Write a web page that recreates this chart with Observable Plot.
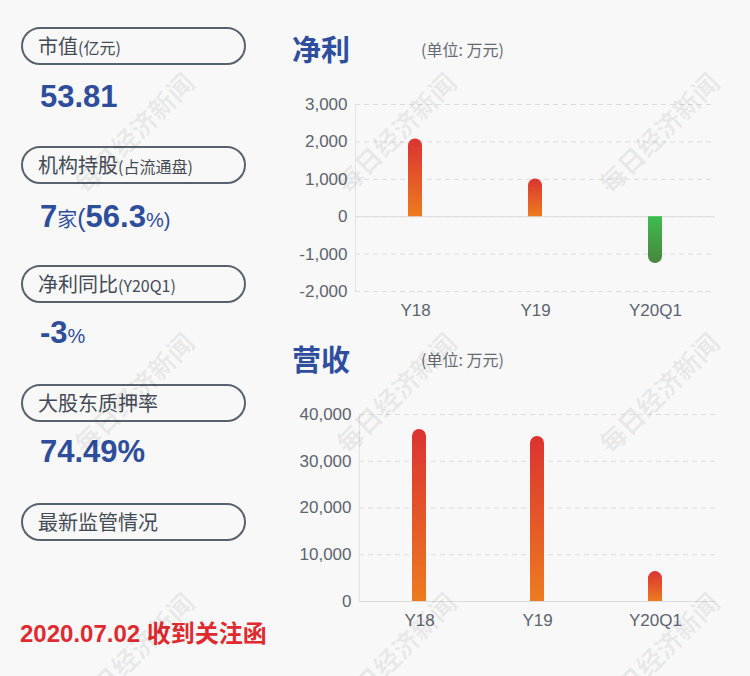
<!DOCTYPE html>
<html><head><meta charset="utf-8">
<script src="https://cdn.jsdelivr.net/npm/d3@7"></script>
<script src="https://cdn.jsdelivr.net/npm/@observablehq/plot@0.6"></script>
<style>
html,body{margin:0;padding:0;background:#f8f8f8;}
#page{position:relative;width:750px;height:676px;overflow:hidden;background:#f8f8f8;font-family:"Liberation Sans",Arial,"Noto Sans CJK SC",sans-serif;}
.layer{position:absolute;left:0;top:0;}
.chart{position:absolute;left:280px;}
</style></head><body>
<div id="page">
<svg id="panel" class="layer" width="750" height="676"></svg>
<div id="c1" class="chart" style="top:90px"></div>
<div id="c2" class="chart" style="top:400px"></div>
<svg id="wm" class="layer" width="750" height="676" style="pointer-events:none"></svg>
</div>
<svg width="0" height="0" style="position:absolute">
<defs>
<linearGradient id="gPos" x1="0" y1="0" x2="0" y2="1">
<stop offset="0" stop-color="#db3331"/><stop offset="1" stop-color="#ed7b1f"/>
</linearGradient>
<linearGradient id="gNeg" x1="0" y1="0" x2="0" y2="1">
<stop offset="0" stop-color="#3dbc50"/><stop offset="1" stop-color="#4a863d"/>
</linearGradient>
</defs>
</svg>
<script>
// ---- data ----
const categories = ["Y18", "Y19", "Y20Q1"];
const netProfit = [2080, 1010, -1250];
const revenue = [36800, 35300, 6400];
const netProfitTicks = [-2000, -1000, 0, 1000, 2000, 3000];
const revenueTicks = [0, 10000, 20000, 30000, 40000];
const chartTitles = ["净利", "营收"];
const unitText = "(单位: 万元)";
const panelLabels = ["市值", "机构持股", "净利同比", "大股东质押率", "最新监管情况"];
const panelSubLabels = ["(亿元)", "(占流通盘)", "(Y20Q1)", "", ""];
const panelValues = [
  [["53.81", "b"]],
  [["7", "b"], ["家", "s"], ["(", "m"], ["56.3", "b"], ["%)", "s"]],
  [["-3", "b"], ["%", "s"]],
  [["74.49%", "b"]],
  []
];
const footerText = "2020.07.02 收到关注函";
const watermarkText = "每日经济新闻";

// ---- left panel ----
const panel = d3.select("#panel");
const cjk = "'Noto Sans CJK SC','Liberation Sans',sans-serif";
const lat = "'Liberation Sans',Arial,'Noto Sans CJK SC',sans-serif";
panelLabels.forEach((lab, i) => {
  const top = 28 + i * 119;
  panel.append("rect").attr("x", 22).attr("y", top).attr("width", 223).attr("height", 36)
    .attr("rx", 18).attr("fill", "none").attr("stroke", "#58626f").attr("stroke-width", 2);
  const t = panel.append("text").attr("x", 38).attr("y", top + 25.5).attr("fill", "#444b55");
  t.append("tspan").text(lab).attr("font-size", 20).attr("font-family", cjk);
  if (panelSubLabels[i]) t.append("tspan").text(panelSubLabels[i]).attr("font-size", 16).attr("font-family", cjk);
  const vals = panelValues[i];
  if (vals.length) {
    const v = panel.append("text").attr("x", 40).attr("y", top + 79 + (i === 1 ? 1 : 0) + (i >= 2 ? -2 : 0)).attr("fill", "#2e4d9b");
    vals.forEach(([s, k]) => {
      const sp = v.append("tspan").text(s).attr("font-family", lat);
      if (k === "b") sp.attr("font-size", 31).attr("font-weight", "bold");
      else if (k === "m") sp.attr("font-size", 25);
      else sp.attr("font-size", 20);
    });
  }
});
panel.append("text").attr("x", 20).attr("y", 642).attr("fill", "#df2a2f")
  .attr("font-size", 24).attr("font-weight", "bold").attr("font-family", lat).text(footerText);

// titles
[[61, 56], [371, 366]].forEach(([by, uy], i) => {
  panel.append("text").attr("x", 292).attr("y", by).attr("fill", "#2f4f9e")
    .attr("font-size", 29).attr("font-weight", "bold").attr("font-family", cjk).text(chartTitles[i]);
  panel.append("text").attr("x", 421).attr("y", uy).attr("fill", "#666b73")
    .attr("font-size", 16).attr("font-family", cjk).text(unitText);
});

// ---- charts ----
function roundTips(svg) {
  const y0 = svg.scale("y").apply(0);
  svg.querySelectorAll('g[aria-label="bar"] rect').forEach(rect => {
    const x = +rect.getAttribute("x"), y = +rect.getAttribute("y");
    const w = +rect.getAttribute("width"), h = +rect.getAttribute("height");
    const r = Math.min(w / 2, h);
    const pos = Math.abs(y + h - y0) < 1;
    const d = pos
      ? `M${x},${y + h}V${y + r}A${r},${r} 0 0 1 ${x + w},${y + r}V${y + h}Z`
      : `M${x},${y}V${y + h - r}A${r},${r} 0 0 0 ${x + w},${y + h - r}V${y}Z`;
    const p = document.createElementNS("http://www.w3.org/2000/svg", "path");
    for (const a of rect.attributes) if (!["x", "y", "width", "height"].includes(a.name)) p.setAttribute(a.name, a.value);
    p.setAttribute("d", d);
    rect.replaceWith(p);
  });
}

function makeChart(values, ticks, marginLeft) {
  const data = categories.map((c, i) => ({cat: c, v: values[i]}));
  const innerW = 450 - marginLeft - 15;
  const step = innerW / 3;
  const pi = 1 - 14 / step;
  const svg = Plot.plot({
    width: 450, height: 231,
    marginTop: 14, marginBottom: 30, marginLeft, marginRight: 15,
    style: {background: "transparent", fontSize: "17px", fontFamily: "'Liberation Sans', Arial, sans-serif", color: "#5d6470", overflow: "visible"},
    x: {domain: categories, paddingInner: pi, paddingOuter: pi / 2},
    y: {domain: [d3.min(ticks), d3.max(ticks)]},
    marks: [
      Plot.gridY(ticks, {stroke: "#dcdcdc", strokeOpacity: 1, strokeDasharray: "5,4"}),
      Plot.frame({anchor: "left", stroke: "#e3e3e3"}),
      Plot.ruleY([0], {stroke: "#dcdcdc"}),
      Plot.axisY(ticks, {tickSize: 0, tickPadding: 8, label: null, fontSize: 17, tickFormat: d => d.toLocaleString("en-US")}),
      Plot.axisX({tickSize: 0, tickPadding: 12, label: null, fontSize: 17}),
      Plot.barY(data.filter(d => d.v >= 0), {x: "cat", y: "v", fill: "url(#gPos)"}),
      Plot.barY(data.filter(d => d.v < 0), {x: "cat", y: "v", fill: "url(#gNeg)"})
    ]
  });
  roundTips(svg);
  return svg;
}
document.getElementById("c1").append(makeChart(netProfit, netProfitTicks, 75));
document.getElementById("c2").append(makeChart(revenue, revenueTicks, 79));

// ---- watermarks ----
const wm = d3.select("#wm");
[133, 395, 658].forEach(cx => [132, 392, 652].forEach(cy => {
  wm.append("text").attr("transform", `translate(${cx},${cy}) rotate(-45)`)
    .attr("text-anchor", "middle").attr("dominant-baseline", "central")
    .attr("font-size", 26).attr("font-weight", "bold").attr("font-family", cjk)
    .attr("fill", "#000").attr("fill-opacity", 0.07).text(watermarkText);
}));
</script>
</body></html>
